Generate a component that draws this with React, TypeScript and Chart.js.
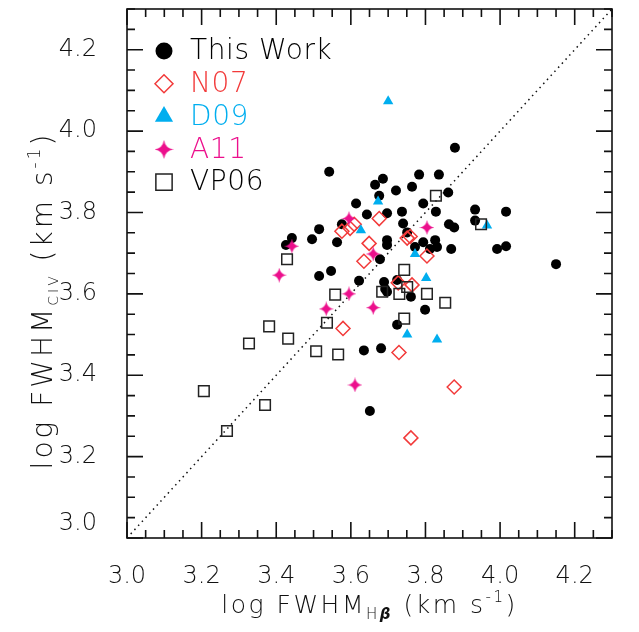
import React, { useEffect, useRef } from 'react';
import { Chart, registerables } from 'chart.js';
import { drawPoint } from 'chart.js/helpers';

Chart.register(...registerables);

// ---------------- data ----------------
const X_RANGE = [3.0, 4.3];
const Y_RANGE = [3.0, 4.3];
const X_TICKS = [3.0, 3.2, 3.4, 3.6, 3.8, 4.0, 4.2];
const Y_TICKS = [3.0, 3.2, 3.4, 3.6, 3.8, 4.0, 4.2];
const ONE_TO_ONE = [3.0, 4.3];

const SERIES_LABELS = ['This Work', 'N07', 'D09', 'A11', 'VP06'];

const THIS_WORK_X = [3.542, 3.686, 3.665, 3.721, 3.676, 3.614, 3.643, 3.697, 3.576, 3.515,
  3.496, 3.563, 3.442, 3.426, 3.697, 3.697, 3.678, 3.879, 3.783, 3.836,
  3.764, 3.861, 3.794, 3.737, 3.828, 3.933, 4.016, 3.933, 3.863, 3.877,
  3.740, 3.751, 3.794, 3.826, 3.831, 3.772, 3.812, 3.869, 3.992, 4.016,
  4.150, 3.515, 3.547, 3.622, 3.689, 3.692, 3.697, 3.724, 3.761, 3.799,
  3.724, 3.635, 3.681, 3.651];
const THIS_WORK_Y = [3.900, 3.883, 3.868, 3.854, 3.841, 3.822, 3.795, 3.798, 3.771, 3.759,
  3.734, 3.727, 3.737, 3.720, 3.732, 3.720, 3.685, 3.959, 3.893, 3.893,
  3.863, 3.849, 3.822, 3.802, 3.802, 3.807, 3.802, 3.780, 3.771, 3.763,
  3.773, 3.751, 3.727, 3.732, 3.715, 3.715, 3.710, 3.710, 3.710, 3.717,
  3.673, 3.644, 3.656, 3.632, 3.629, 3.612, 3.605, 3.634, 3.593, 3.561,
  3.524, 3.461, 3.466, 3.312];

const N07_X = [3.609, 3.598, 3.576, 3.676, 3.649, 3.635, 3.751, 3.759, 3.804, 3.727,
  3.764, 3.579, 3.729, 3.877, 3.761];
const N07_Y = [3.771, 3.761, 3.754, 3.785, 3.724, 3.680, 3.737, 3.741, 3.693, 3.627,
  3.622, 3.515, 3.456, 3.371, 3.246];

const D09_X = [3.700, 3.673, 3.627, 3.772, 3.802, 3.751, 3.831, 3.965];
const D09_Y = [4.073, 3.827, 3.756, 3.698, 3.639, 3.500, 3.488, 3.768];

const A11_X = [3.595, 3.442, 3.408, 3.660, 3.595, 3.534, 3.660, 3.804, 3.611];
const A11_Y = [3.785, 3.717, 3.646, 3.698, 3.600, 3.563, 3.566, 3.763, 3.376];

const VP06_X = [3.429, 3.828, 3.949, 3.684, 3.730, 3.558, 3.536, 3.381, 3.432, 3.507,
  3.566, 3.743, 3.751, 3.804, 3.853, 3.743, 3.327, 3.206, 3.370, 3.268];
const VP06_Y = [3.685, 3.841, 3.771, 3.605, 3.600, 3.598, 3.529, 3.520, 3.490, 3.459,
  3.451, 3.659, 3.617, 3.600, 3.578, 3.539, 3.478, 3.361, 3.327, 3.263];

// ---------------- styles ----------------
const FONT = '"DejaVu Sans", "Liberation Sans", sans-serif';
const WEIGHT = '200';
const AXIS_COLOR = '#111111';
const RED = '#f23a3a';
const CYAN = '#00aeef';
const MAGENTA = '#ec0f8c';
const LEGEND_TEXT_COLORS = ['#000000', RED, CYAN, MAGENTA, '#000000'];

const zip = (xs: number[], ys: number[]) => xs.map((x, i) => ({ x, y: ys[i] }));

function makeStar(size: number, color: string) {
  const c = document.createElement('canvas');
  c.width = size;
  c.height = size;
  const ctx = c.getContext('2d')!;
  const R = size / 2;
  const k = 0.13 * R;
  ctx.fillStyle = color;
  ctx.beginPath();
  ctx.moveTo(R, 0);
  ctx.quadraticCurveTo(R + k, R - k, size, R);
  ctx.quadraticCurveTo(R + k, R + k, R, size);
  ctx.quadraticCurveTo(R - k, R + k, 0, R);
  ctx.quadraticCurveTo(R - k, R - k, R, 0);
  ctx.fill();
  return c;
}

type Seg = { text: string; font: string; dy: number };

function drawRich(ctx: any, segs: Seg[], cx: number, baseline: number, spacing: string) {
  ctx.letterSpacing = spacing;
  let w = 0;
  for (const s of segs) {
    ctx.font = s.font;
    w += ctx.measureText(s.text).width;
  }
  let x = cx - w / 2;
  ctx.textAlign = 'left';
  ctx.textBaseline = 'alphabetic';
  for (const s of segs) {
    ctx.font = s.font;
    ctx.fillText(s.text, x, baseline + s.dy);
    x += ctx.measureText(s.text).width;
  }
  ctx.letterSpacing = '0px';
}

const f = (size: number, extra = '') => `${extra || WEIGHT} ${size}px ${FONT}`;

const X_TITLE: Seg[] = [
  { text: 'log FWHM', font: f(25), dy: 0 },
  { text: 'H', font: f(15), dy: 6 },
  { text: 'β', font: f(15, 'italic bold'), dy: 6 },
  { text: ' (km s', font: f(25), dy: 0 },
  { text: '-1', font: f(15), dy: -11 },
  { text: ')', font: f(25), dy: 0 },
];
const Y_TITLE: Seg[] = [
  { text: 'log FWHM', font: f(28), dy: 0 },
  { text: 'CIV', font: f(14), dy: 6 },
  { text: ' (km s', font: f(28), dy: 0 },
  { text: '-1', font: f(17), dy: -12 },
  { text: ')', font: f(28), dy: 0 },
];

const frameAndTitles = {
  id: 'frameAndTitles',
  afterDraw(chart: any) {
    const { ctx, chartArea: a, scales } = chart;
    const xs = scales.x;
    const ys = scales.y;
    ctx.save();
    ctx.strokeStyle = AXIS_COLOR;
    ctx.lineWidth = 1.6;
    ctx.strokeRect(a.left, a.top, a.right - a.left, a.bottom - a.top);
    const MAJ = 16;
    const MIN = 8;
    const isMajor = (v: number, arr: number[]) => arr.some((t) => Math.abs(t - v) < 1e-6);
    ctx.beginPath();
    for (let i = 0; ; i++) {
      const v = X_RANGE[0] + i * 0.05;
      if (v > X_RANGE[1] + 1e-6) break;
      const px = xs.getPixelForValue(v);
      const len = isMajor(Math.round(v * 100) / 100, X_TICKS) ? MAJ : MIN;
      ctx.moveTo(px, a.bottom);
      ctx.lineTo(px, a.bottom - len);
      ctx.moveTo(px, a.top);
      ctx.lineTo(px, a.top + len);
    }
    for (let i = 0; ; i++) {
      const v = Y_RANGE[0] + i * 0.05;
      if (v > Y_RANGE[1] + 1e-6) break;
      const py = ys.getPixelForValue(v);
      const len = isMajor(Math.round(v * 100) / 100, Y_TICKS) ? MAJ : MIN;
      ctx.moveTo(a.left, py);
      ctx.lineTo(a.left + len, py);
      ctx.moveTo(a.right, py);
      ctx.lineTo(a.right - len, py);
    }
    ctx.stroke();

    // axis titles
    ctx.fillStyle = AXIS_COLOR;
    drawRich(ctx, X_TITLE, (a.left + a.right) / 2, 613, '2.5px');
    ctx.translate(0, (a.top + a.bottom) / 2 + 27);
    ctx.rotate(-Math.PI / 2);
    drawRich(ctx, Y_TITLE, 0, 52, '3px');
    ctx.restore();
  },
};

const insideLegend = {
  id: 'insideLegend',
  afterDraw(chart: any) {
    const { ctx, chartArea: a } = chart;
    ctx.save();
    const startY = a.top + 42;
    const step = 32.8;
    chart.data.datasets.forEach((ds: any) => {
      if (!ds.legend) return;
      const y = startY + ds.legendIndex * step;
      const mx = a.left + 37;
      ctx.fillStyle = ds.legend.fill;
      ctx.strokeStyle = ds.legend.stroke;
      ctx.lineWidth = ds.legend.borderWidth;
      drawPoint(ctx, {
        pointStyle: ds.legend.pointStyle,
        radius: ds.legend.radius,
        rotation: 0,
        borderWidth: ds.legend.borderWidth,
      } as any, mx, y);
      ctx.fillStyle = LEGEND_TEXT_COLORS[ds.legendIndex];
      ctx.font = `${WEIGHT} 28px ${FONT}`;
      ctx.letterSpacing = '0.6px';
      ctx.textAlign = 'left';
      ctx.textBaseline = 'middle';
      ctx.fillText(ds.label, a.left + 63, y + 1);
      ctx.letterSpacing = '0px';
    });
    ctx.restore();
  },
};

export default function App() {
  const ref = useRef<HTMLCanvasElement | null>(null);
  useEffect(() => {
    if (!ref.current) return;
    const starPlot = makeStar(15, MAGENTA);
    const starLegend = makeStar(19, MAGENTA);
    const transparent = 'rgba(0,0,0,0)';
    const chart = new Chart(ref.current, {
      type: 'scatter',
      data: {
        datasets: [
          {
            label: SERIES_LABELS[0],
            data: zip(THIS_WORK_X, THIS_WORK_Y),
            pointStyle: 'circle',
            pointRadius: 5,
            backgroundColor: '#000',
            borderColor: '#000',
            borderWidth: 0,
            order: 5,
            legend: { pointStyle: 'circle', radius: 8.5, fill: '#000', stroke: '#000', borderWidth: 0 },
            legendIndex: 0,
          },
          {
            label: SERIES_LABELS[1],
            data: zip(N07_X, N07_Y),
            pointStyle: 'rectRot',
            pointRadius: 7,
            backgroundColor: transparent,
            borderColor: RED,
            borderWidth: 1.5,
            order: 4,
            legend: { pointStyle: 'rectRot', radius: 9, fill: transparent, stroke: RED, borderWidth: 1.5 },
            legendIndex: 1,
          },
          {
            label: SERIES_LABELS[2],
            data: zip(D09_X, D09_Y),
            pointStyle: 'triangle',
            pointRadius: 6,
            backgroundColor: CYAN,
            borderColor: CYAN,
            borderWidth: 0,
            order: 3,
            legend: { pointStyle: 'triangle', radius: 10.5, fill: CYAN, stroke: CYAN, borderWidth: 0 },
            legendIndex: 2,
          },
          {
            label: SERIES_LABELS[3],
            data: zip(A11_X, A11_Y),
            pointStyle: starPlot,
            pointRadius: 7,
            backgroundColor: MAGENTA,
            borderColor: MAGENTA,
            order: 2,
            legend: { pointStyle: starLegend, radius: 9, fill: MAGENTA, stroke: MAGENTA, borderWidth: 0 },
            legendIndex: 3,
          },
          {
            label: SERIES_LABELS[4],
            data: zip(VP06_X, VP06_Y),
            pointStyle: 'rect',
            pointRadius: 7.5,
            backgroundColor: transparent,
            borderColor: '#222',
            borderWidth: 1.5,
            order: 1,
            legend: { pointStyle: 'rect', radius: 11.5, fill: transparent, stroke: '#222', borderWidth: 1.5 },
            legendIndex: 4,
          },
          {
            type: 'line',
            label: '1:1',
            data: [
              { x: ONE_TO_ONE[0], y: ONE_TO_ONE[0] },
              { x: ONE_TO_ONE[1], y: ONE_TO_ONE[1] },
            ],
            showLine: true,
            borderColor: '#111',
            borderWidth: 1.5,
            borderDash: [1.5, 4],
            pointRadius: 0,
            fill: false,
            order: 10,
          },
        ] as any,
      },
      options: {
        animation: false,
        responsive: false,
        devicePixelRatio: 1,
        events: [],
        layout: { padding: { left: 0, right: 27, top: 5, bottom: 0 } },
        plugins: { legend: { display: false }, tooltip: { enabled: false } },
        scales: {
          x: {
            type: 'linear',
            min: X_RANGE[0],
            max: X_RANGE[1],
            afterBuildTicks: (s: any) => {
              s.ticks = X_TICKS.map((v) => ({ value: v }));
            },
            afterFit: (s: any) => {
              s.height = 94;
              s.paddingLeft = 0;
              s.paddingRight = 0;
            },
            ticks: {
              callback: (v: any) => Number(v).toFixed(1),
              font: { family: FONT, size: 24, weight: WEIGHT as any },
              color: AXIS_COLOR,
              padding: 24,
              maxRotation: 0,
              autoSkip: false,
            },
            grid: { display: false, drawTicks: false },
            border: { display: false },
          },
          y: {
            type: 'linear',
            min: Y_RANGE[0],
            max: Y_RANGE[1],
            afterBuildTicks: (s: any) => {
              s.ticks = Y_TICKS.map((v) => ({ value: v }));
            },
            afterFit: (s: any) => {
              s.width = 127;
              s.paddingTop = 0;
              s.paddingBottom = 0;
            },
            ticks: {
              // the lowest label sits just above the corner, as in the original
              callback: (v: any) =>
                Math.abs(Number(v) - Y_RANGE[0]) < 1e-6 ? [Number(v).toFixed(1), ''] : Number(v).toFixed(1),
              font: { family: FONT, size: 24, weight: WEIGHT as any },
              color: AXIS_COLOR,
              padding: 30,
              autoSkip: false,
            },
            grid: { display: false, drawTicks: false },
            border: { display: false },
          },
        },
      } as any,
      plugins: [frameAndTitles, insideLegend],
    });
    return () => chart.destroy();
  }, []);
  return (
    <div style={{ position: 'absolute', left: 0, top: 0, width: 639, height: 632, background: '#fff' }}>
      <canvas ref={ref} width={639} height={632} style={{ display: 'block' }} />
    </div>
  );
}
